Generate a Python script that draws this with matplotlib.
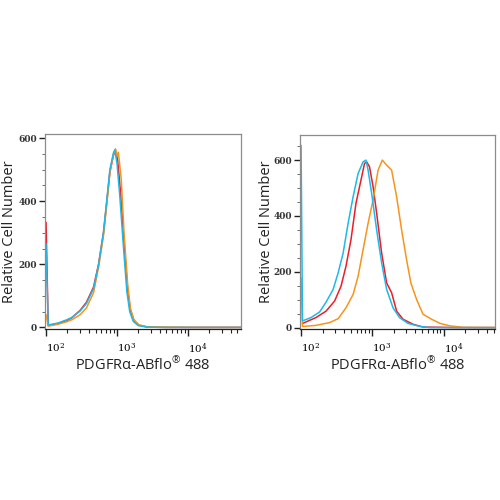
import numpy as np
import matplotlib
matplotlib.use("Agg")
import matplotlib.pyplot as plt
from matplotlib.ticker import FixedLocator, MultipleLocator, NullFormatter
from matplotlib.transforms import ScaledTranslation

# ---- data: log10 fluorescence positions and relative cell counts ----
# Left panel
L_blue_x = [1.99, 2.00, 2.03, 2.17, 2.29, 2.36, 2.48, 2.57, 2.67, 2.74, 2.81, 2.86, 2.90, 2.95, 2.97,
            3.00, 3.04, 3.09, 3.14, 3.18, 3.23, 3.30, 3.42, 3.70, 4.10, 4.75]
L_blue_y = [265, 265, 8, 14, 24, 31, 52, 76, 123, 197, 301, 411, 500, 553, 563,
            521, 417, 260, 113, 50, 19, 6, 1, 0, 0, 0]
L_red_x = [1.99, 2.00, 2.03, 2.17, 2.29, 2.36, 2.48, 2.57, 2.67, 2.74, 2.81, 2.86, 2.90, 2.95, 2.98,
           3.01, 3.05, 3.10, 3.15, 3.19, 3.24, 3.31, 3.43, 3.70, 4.10, 4.75]
L_red_y = [333, 333, 6, 12, 22, 30, 54, 80, 128, 200, 300, 405, 492, 545, 560,
           530, 430, 270, 120, 55, 22, 7, 1, 0, 0, 0]
L_orange_x = [1.99, 2.00, 2.03, 2.17, 2.29, 2.36, 2.48, 2.57, 2.67, 2.74, 2.81, 2.86, 2.90, 2.95, 2.98,
              3.00, 3.02, 3.06, 3.10, 3.15, 3.19, 3.24, 3.31, 3.43, 3.70, 4.10, 4.75]
L_orange_y = [40, 40, 4, 10, 18, 24, 40, 62, 110, 190, 290, 398, 490, 548, 566,
              545, 555, 470, 300, 140, 60, 24, 8, 2, 1, 0, 0]

# Right panel
R_blue_x = [1.99, 2.00, 2.02, 2.14, 2.26, 2.35, 2.45, 2.52, 2.59, 2.66, 2.73, 2.80, 2.87, 2.91,
            2.94, 2.99, 3.06, 3.13, 3.20, 3.29, 3.38, 3.50, 3.67, 3.81, 4.20, 4.72]
R_blue_y = [653, 653, 24, 36, 56, 91, 137, 196, 267, 374, 469, 552, 594, 600,
            564, 481, 350, 232, 137, 71, 36, 15, 4, 0, 0, 0]
R_red_x = [2.02, 2.21, 2.35, 2.47, 2.56, 2.63, 2.70, 2.77, 2.85, 2.89, 2.92, 2.96, 3.01,
           3.06, 3.13, 3.20, 3.27, 3.34, 3.43, 3.57, 3.71, 4.20, 4.72]
R_red_y = [15, 36, 59, 95, 148, 220, 315, 445, 540, 588, 594, 576, 505,
           410, 267, 160, 125, 59, 30, 12, 2, 0, 0]
R_orange_x = [1.99, 2.00, 2.02, 2.21, 2.40, 2.52, 2.63, 2.73, 2.80, 2.87, 2.94, 3.01, 3.08, 3.14,
              3.20, 3.27, 3.34, 3.41, 3.48, 3.54, 3.62, 3.71, 3.83, 3.95, 4.09, 4.28, 4.72]
R_orange_y = [178, 178, 4, 8, 18, 32, 71, 119, 184, 279, 374, 457, 564, 600,
              582, 564, 469, 350, 243, 160, 101, 48, 30, 15, 6, 1, 0]

RED = "#ee1c25"
BLUE = "#1fb8e8"
ORANGE = "#f7941d"

xlabel = "PDGFR\u03b1-ABflo$^{\u00ae}$ 488"
ylabel = "Relative Cell Number"

plt.rcParams["mathtext.fontset"] = "custom"
plt.rcParams["mathtext.rm"] = "Open Sans"
plt.rcParams["mathtext.it"] = "Open Sans"

fig = plt.figure(figsize=(5, 5), dpi=100)
fig.patch.set_facecolor("white")

panels = [
    ([0.09, 0.342, 0.392, 0.390], (L_red_x, L_red_y), (L_blue_x, L_blue_y), (L_orange_x, L_orange_y),
     (-5, 613), [0, 200, 400, 600], (1.985, 4.75), -0.145),
    ([0.60, 0.342, 0.390, 0.388], (R_red_x, R_red_y), (R_blue_x, R_blue_y), (R_orange_x, R_orange_y),
     (-5, 690), [0, 200, 400, 600], (1.985, 4.72), -0.135),
]

for rect, red, blue, orange, ylim, yticks, xl, ylx in panels:
    ax = fig.add_axes(rect)
    for (xs, ys), c in ((red, RED), (orange, ORANGE), (blue, BLUE)):
        ax.plot(10 ** np.array(xs), ys, color=c, lw=1.1)
    ax.set_xscale("log")
    ax.set_xlim(10 ** xl[0], 10 ** xl[1])
    ax.set_ylim(*ylim)
    for s in ax.spines.values():
        s.set_color("#8c8c8c")
        s.set_linewidth(0.9)
    ax.spines["bottom"].set_color("#222222")
    ax.xaxis.set_major_locator(FixedLocator([1e2, 1e3, 1e4]))
    ax.set_xticklabels([r"$\mathdefault{10^2}$", r"$\mathdefault{10^3}$", r"$\mathdefault{10^4}$"],
                       family="DejaVu Serif", fontsize=7.5)
    off = ScaledTranslation(-1 / 100, 0, fig.dpi_scale_trans)
    for lab in ax.get_xticklabels():
        lab.set_horizontalalignment("left")
        lab.set_fontfamily("DejaVu Serif")
        lab.set_transform(lab.get_transform() + off)
    ax.set_yticks(yticks)
    ax.set_yticklabels([str(v) for v in yticks], family="DejaVu Serif", fontsize=6.5,
                       fontweight="bold", color="#333333")
    ax.yaxis.set_minor_locator(MultipleLocator(50))
    ax.tick_params(axis="x", which="major", direction="out", length=5, width=1, pad=4,
                   color="#222222")
    ax.tick_params(axis="x", which="minor", direction="out", length=3, width=0.8,
                   color="#222222")
    ax.xaxis.set_minor_formatter(NullFormatter())
    ax.tick_params(axis="y", which="major", direction="out", length=4, width=1, pad=2,
                   color="#222222")
    ax.tick_params(axis="y", which="minor", direction="out", length=2, width=0.6,
                   color="#555555")
    ax.set_xlabel(xlabel, family="Open Sans", fontsize=10.5, labelpad=0, color="#222222")
    ax.set_ylabel(ylabel, family="Open Sans", fontsize=10.5, color="#222222")
    ax.yaxis.set_label_coords(ylx, 0.5)

fig.savefig("out.png", dpi=100, facecolor="white")
